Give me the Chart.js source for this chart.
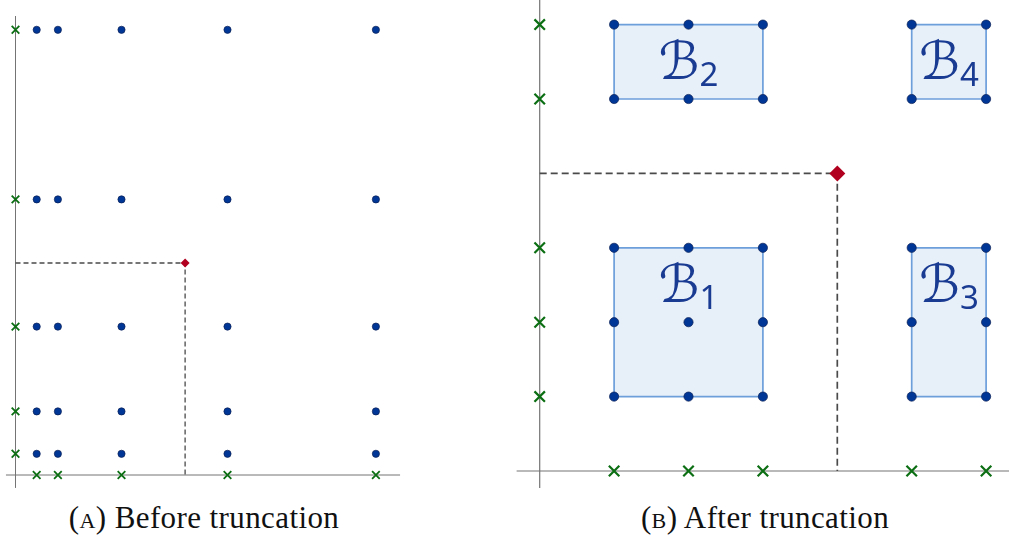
<!DOCTYPE html>
<html>
<head>
<meta charset="utf-8">
<script src="https://cdn.jsdelivr.net/npm/chart.js@4.4.1/dist/chart.umd.min.js"></script>
<style>
  html, body { margin: 0; padding: 0; background: #fff; }
  body { width: 1009px; height: 541px; position: relative; overflow: hidden; }
  canvas { position: absolute; top: 0; }
  #before { left: 0; }
  #after { left: 510px; }
  .caption {
    position: absolute; top: 502px; width: 400px; text-align: center;
    font-family: "Liberation Serif", serif;
    font-size: 31px; line-height: 31px; letter-spacing: 0.4px; color: #111; white-space: nowrap;
  }
  .caption .sc { font-variant: small-caps; }
</style>
</head>
<body>
<canvas id="before" width="420" height="500"></canvas>
<canvas id="after" width="499" height="500"></canvas>
<div class="caption" style="left:4px"><span class="sc">(a)</span> Before truncation</div>
<div class="caption" style="left:565px"><span class="sc">(b)</span> After truncation</div>
<script>
// panel A: grid before truncation
const xBefore = [1, 2, 5, 10, 17]
const yBefore = [1, 3, 7, 13, 21]
const markBefore = [8, 10]

// panel B: grid after truncation
const xAfter = [1, 2, 3, 5, 6]
const yAfter = [1, 2, 3, 5, 6]
const markAfter = [4, 4]

// boxes in panel B
const boxNames = ['1', '2', '3', '4']
const boxX = [[1, 3], [1, 3], [5, 6], [5, 6]]
const boxY = [[1, 3], [5, 6], [1, 3], [5, 6]]
const boxLabelAt = [[2, 2.5], [2, 5.5], [5.5, 2.5], [5.5, 5.5]]

const grid = (xs, ys) => xs.flatMap(x => ys.map(y => ({ x, y })))

const B_FONT = '52px "DejaVu Sans"'
const SUB_FONT = '33px "Noto Sans"'

const boxLabels = {
  id: 'boxLabels',
  afterDatasetsDraw (chart, args, opts) {
    if (!opts.show) return
    const { ctx, scales: { x, y } } = chart
    ctx.save()
    ctx.fillStyle = '#1a3b92'
    ctx.textBaseline = 'alphabetic'
    boxNames.forEach((name, i) => {
      const px = x.getPixelForValue(boxLabelAt[i][0])
      const py = y.getPixelForValue(boxLabelAt[i][1])
      ctx.font = B_FONT
      const wB = ctx.measureText('\u212C').width
      ctx.font = SUB_FONT
      const wS = ctx.measureText(name).width
      const left = px - (wB + wS) / 2
      ctx.font = B_FONT
      ctx.fillText('\u212C', left, py + 17)
      ctx.font = SUB_FONT
      ctx.fillText(name, left + wB, py + 24)
    })
    ctx.restore()
  }
}

const makeChart = (id, p) => {
  const canvas = document.getElementById(id)
  const W = canvas.width
  const H = canvas.height
  const datasets = [
    {
      data: grid(p.xs, p.ys),
      pointStyle: 'circle',
      pointRadius: p.dot,
      backgroundColor: '#003796',
      borderColor: '#0b1f55',
      borderWidth: 0.7
    },
    {
      data: p.xs.map(x => ({ x, y: 0 })).concat(p.ys.map(y => ({ x: 0, y }))),
      pointStyle: 'crossRot',
      pointRadius: p.cross,
      borderColor: '#0b6e12',
      borderWidth: p.crossW
    },
    {
      data: [{ x: p.mark[0], y: p.mark[1] }],
      pointStyle: 'rectRot',
      pointRadius: p.diamond,
      backgroundColor: '#b1001f',
      borderColor: '#b1001f',
      borderWidth: 0
    },
    {
      data: [{ x: 0, y: p.mark[1] }, { x: p.mark[0], y: p.mark[1] }, { x: p.mark[0], y: 0 }],
      showLine: true,
      pointRadius: 0,
      borderColor: '#4a4a4a',
      borderWidth: p.dashW,
      borderDash: p.dash
    },
    {
      data: [{ x: p.axisX[0], y: 0 }, { x: p.axisX[1], y: 0 }],
      showLine: true,
      pointRadius: 0,
      borderColor: '#747474',
      borderWidth: p.axisW
    },
    {
      data: [{ x: 0, y: p.axisY[0] }, { x: 0, y: p.axisY[1] }],
      showLine: true,
      pointRadius: 0,
      borderColor: '#747474',
      borderWidth: p.axisW
    }
  ]
  if (p.boxes) {
    boxX.forEach((bx, i) => {
      const by = boxY[i]
      datasets.push({
        data: [
          { x: bx[0], y: by[0] }, { x: bx[1], y: by[0] }, { x: bx[1], y: by[1] },
          { x: bx[0], y: by[1] }, { x: bx[0], y: by[0] }
        ],
        showLine: true,
        fill: 'shape',
        pointRadius: 0,
        backgroundColor: '#e7eff9',
        borderColor: '#6d9fdb',
        borderWidth: 1.7
      })
    })
  }
  return new Chart(canvas, { // eslint-disable-line
    type: 'scatter',
    data: { datasets },
    plugins: [boxLabels],
    options: {
      responsive: false,
      animation: false,
      events: [],
      layout: { padding: 0, autoPadding: false },
      scales: {
        x: { type: 'linear', display: false, min: -p.ox / p.unit, max: (W - p.ox) / p.unit },
        y: { type: 'linear', display: false, min: (p.oy - H) / p.unit, max: p.oy / p.unit }
      },
      plugins: {
        legend: { display: false },
        tooltip: { enabled: false },
        boxLabels: { show: !!p.boxes }
      }
    }
  })
}

makeChart('before', {
  xs: xBefore, ys: yBefore, mark: markBefore,
  ox: 15.5, oy: 475, unit: 21.2,
  axisX: [-0.45, 18.14], axisY: [-0.61, 21.65], axisW: 1,
  dot: 3.6, cross: 5.4, crossW: 1.8, diamond: 4.5, dash: [5, 3], dashW: 1.3
})

makeChart('after', {
  xs: xAfter, ys: yAfter, mark: markAfter, boxes: true,
  ox: 29.7, oy: 471, unit: 74.4,
  axisX: [-0.31, 6.6], axisY: [-0.23, 6.4], axisW: 1.2,
  dot: 4.6, cross: 7.4, crossW: 2.2, diamond: 8, dash: [7, 4], dashW: 1.7
})
</script>
</body>
</html>
